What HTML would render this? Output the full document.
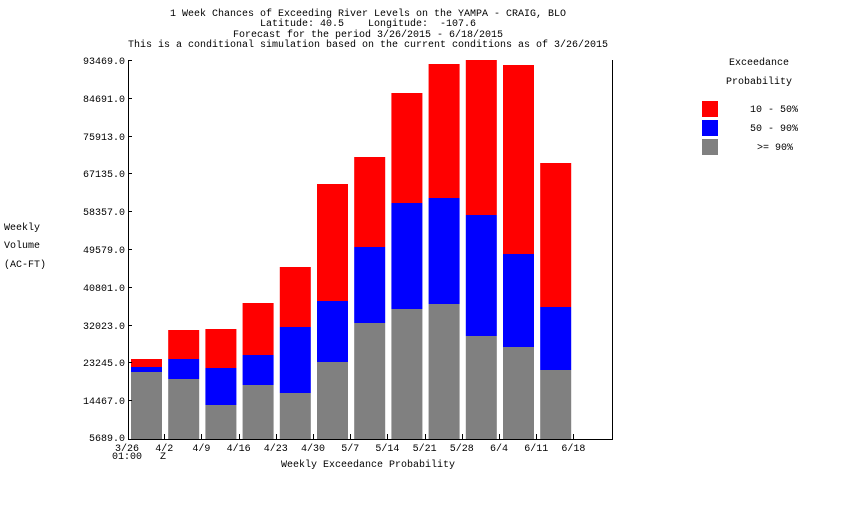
<!DOCTYPE html>
<html><head><style>body{margin:0;background:#fff}svg text{font-family:"Liberation Mono",monospace;font-size:10px;fill:#000}</style></head><body>
<svg width="850" height="500" xmlns="http://www.w3.org/2000/svg">
<g text-anchor="middle">
<text x="368" y="16">1 Week Chances of Exceeding River Levels on the YAMPA - CRAIG, BLO</text>
<text x="368" y="26">Latitude: 40.5&#160;&#160;&#160;&#160;Longitude:&#160;&#160;-107.6</text>
<text x="368" y="37">Forecast for the period 3/26/2015 - 6/18/2015</text>
<text x="368" y="47">This is a conditional simulation based on the current conditions as of 3/26/2015</text>
<text x="368" y="467">Weekly Exceedance Probability</text>
<text x="759" y="65">Exceedance</text>
<text x="759" y="84">Probability</text>
</g>
<text x="4" y="230">Weekly</text>
<text x="4" y="248">Volume</text>
<text x="4" y="267">(AC-FT)</text>
<g>
<rect x="131" y="359" width="31" height="8" fill="#f00"/><rect x="131" y="367" width="31" height="5" fill="#00f"/><rect x="131" y="372" width="31" height="67" fill="#808080"/>
<rect x="168.2" y="330" width="31" height="29" fill="#f00"/><rect x="168.2" y="359" width="31" height="20" fill="#00f"/><rect x="168.2" y="379" width="31" height="60" fill="#808080"/>
<rect x="205.4" y="329" width="31" height="39" fill="#f00"/><rect x="205.4" y="368" width="31" height="37" fill="#00f"/><rect x="205.4" y="405" width="31" height="34" fill="#808080"/>
<rect x="242.6" y="303" width="31" height="52" fill="#f00"/><rect x="242.6" y="355" width="31" height="30" fill="#00f"/><rect x="242.6" y="385" width="31" height="54" fill="#808080"/>
<rect x="279.8" y="267" width="31" height="60" fill="#f00"/><rect x="279.8" y="327" width="31" height="66" fill="#00f"/><rect x="279.8" y="393" width="31" height="46" fill="#808080"/>
<rect x="317" y="184" width="31" height="117" fill="#f00"/><rect x="317" y="301" width="31" height="61" fill="#00f"/><rect x="317" y="362" width="31" height="77" fill="#808080"/>
<rect x="354.2" y="157" width="31" height="90" fill="#f00"/><rect x="354.2" y="247" width="31" height="76" fill="#00f"/><rect x="354.2" y="323" width="31" height="116" fill="#808080"/>
<rect x="391.4" y="93" width="31" height="110" fill="#f00"/><rect x="391.4" y="203" width="31" height="106" fill="#00f"/><rect x="391.4" y="309" width="31" height="130" fill="#808080"/>
<rect x="428.6" y="64" width="31" height="134" fill="#f00"/><rect x="428.6" y="198" width="31" height="106" fill="#00f"/><rect x="428.6" y="304" width="31" height="135" fill="#808080"/>
<rect x="465.8" y="60" width="31" height="155" fill="#f00"/><rect x="465.8" y="215" width="31" height="121" fill="#00f"/><rect x="465.8" y="336" width="31" height="103" fill="#808080"/>
<rect x="503" y="65" width="31" height="189" fill="#f00"/><rect x="503" y="254" width="31" height="93" fill="#00f"/><rect x="503" y="347" width="31" height="92" fill="#808080"/>
<rect x="540.2" y="163" width="31" height="144" fill="#f00"/><rect x="540.2" y="307" width="31" height="63" fill="#00f"/><rect x="540.2" y="370" width="31" height="69" fill="#808080"/>
</g>
<line x1="128.5" y1="60" x2="128.5" y2="440" stroke="#000"/>
<line x1="612.5" y1="60" x2="612.5" y2="440" stroke="#000"/>
<line x1="128" y1="439.5" x2="613" y2="439.5" stroke="#000"/>
<g text-anchor="end">
<text x="125" y="64">93469.0</text><text x="125" y="102">84691.0</text><text x="125" y="140">75913.0</text><text x="125" y="177">67135.0</text><text x="125" y="215">58357.0</text><text x="125" y="253">49579.0</text><text x="125" y="291">40801.0</text><text x="125" y="329">32023.0</text><text x="125" y="366">23245.0</text><text x="125" y="404">14467.0</text><text x="125" y="441">5689.0</text>
</g>
<g stroke="#000">
<line x1="128" y1="60.5" x2="132" y2="60.5"/><line x1="128" y1="98.5" x2="132" y2="98.5"/><line x1="128" y1="136.5" x2="132" y2="136.5"/><line x1="128" y1="173.5" x2="132" y2="173.5"/><line x1="128" y1="211.5" x2="132" y2="211.5"/><line x1="128" y1="249.5" x2="132" y2="249.5"/><line x1="128" y1="287.5" x2="132" y2="287.5"/><line x1="128" y1="325.5" x2="132" y2="325.5"/><line x1="128" y1="362.5" x2="132" y2="362.5"/><line x1="128" y1="400.5" x2="132" y2="400.5"/>
<line x1="164.5" y1="434" x2="164.5" y2="440"/><line x1="201.5" y1="434" x2="201.5" y2="440"/><line x1="239.5" y1="434" x2="239.5" y2="440"/><line x1="276.5" y1="434" x2="276.5" y2="440"/><line x1="313.5" y1="434" x2="313.5" y2="440"/><line x1="350.5" y1="434" x2="350.5" y2="440"/><line x1="387.5" y1="434" x2="387.5" y2="440"/><line x1="425.5" y1="434" x2="425.5" y2="440"/><line x1="462.5" y1="434" x2="462.5" y2="440"/><line x1="499.5" y1="434" x2="499.5" y2="440"/><line x1="536.5" y1="434" x2="536.5" y2="440"/><line x1="573.5" y1="434" x2="573.5" y2="440"/>
</g>
<g text-anchor="middle">
<text x="127" y="451">3/26</text><text x="164.2" y="451">4/2</text><text x="201.4" y="451">4/9</text><text x="238.6" y="451">4/16</text><text x="275.8" y="451">4/23</text><text x="313" y="451">4/30</text><text x="350.2" y="451">5/7</text><text x="387.4" y="451">5/14</text><text x="424.6" y="451">5/21</text><text x="461.8" y="451">5/28</text><text x="499" y="451">6/4</text><text x="536.2" y="451">6/11</text><text x="573.4" y="451">6/18</text>
</g>
<text x="112" y="459">01:00</text><text x="163" y="459" text-anchor="middle">Z</text>
<rect x="702" y="101" width="16" height="16" fill="#f00"/>
<rect x="702" y="120" width="16" height="16" fill="#00f"/>
<rect x="702" y="139" width="16" height="16" fill="#808080"/>
<text x="750" y="112">10 - 50%</text>
<text x="750" y="131">50 - 90%</text>
<text x="757" y="150">&gt;= 90%</text>
</svg></body></html>
